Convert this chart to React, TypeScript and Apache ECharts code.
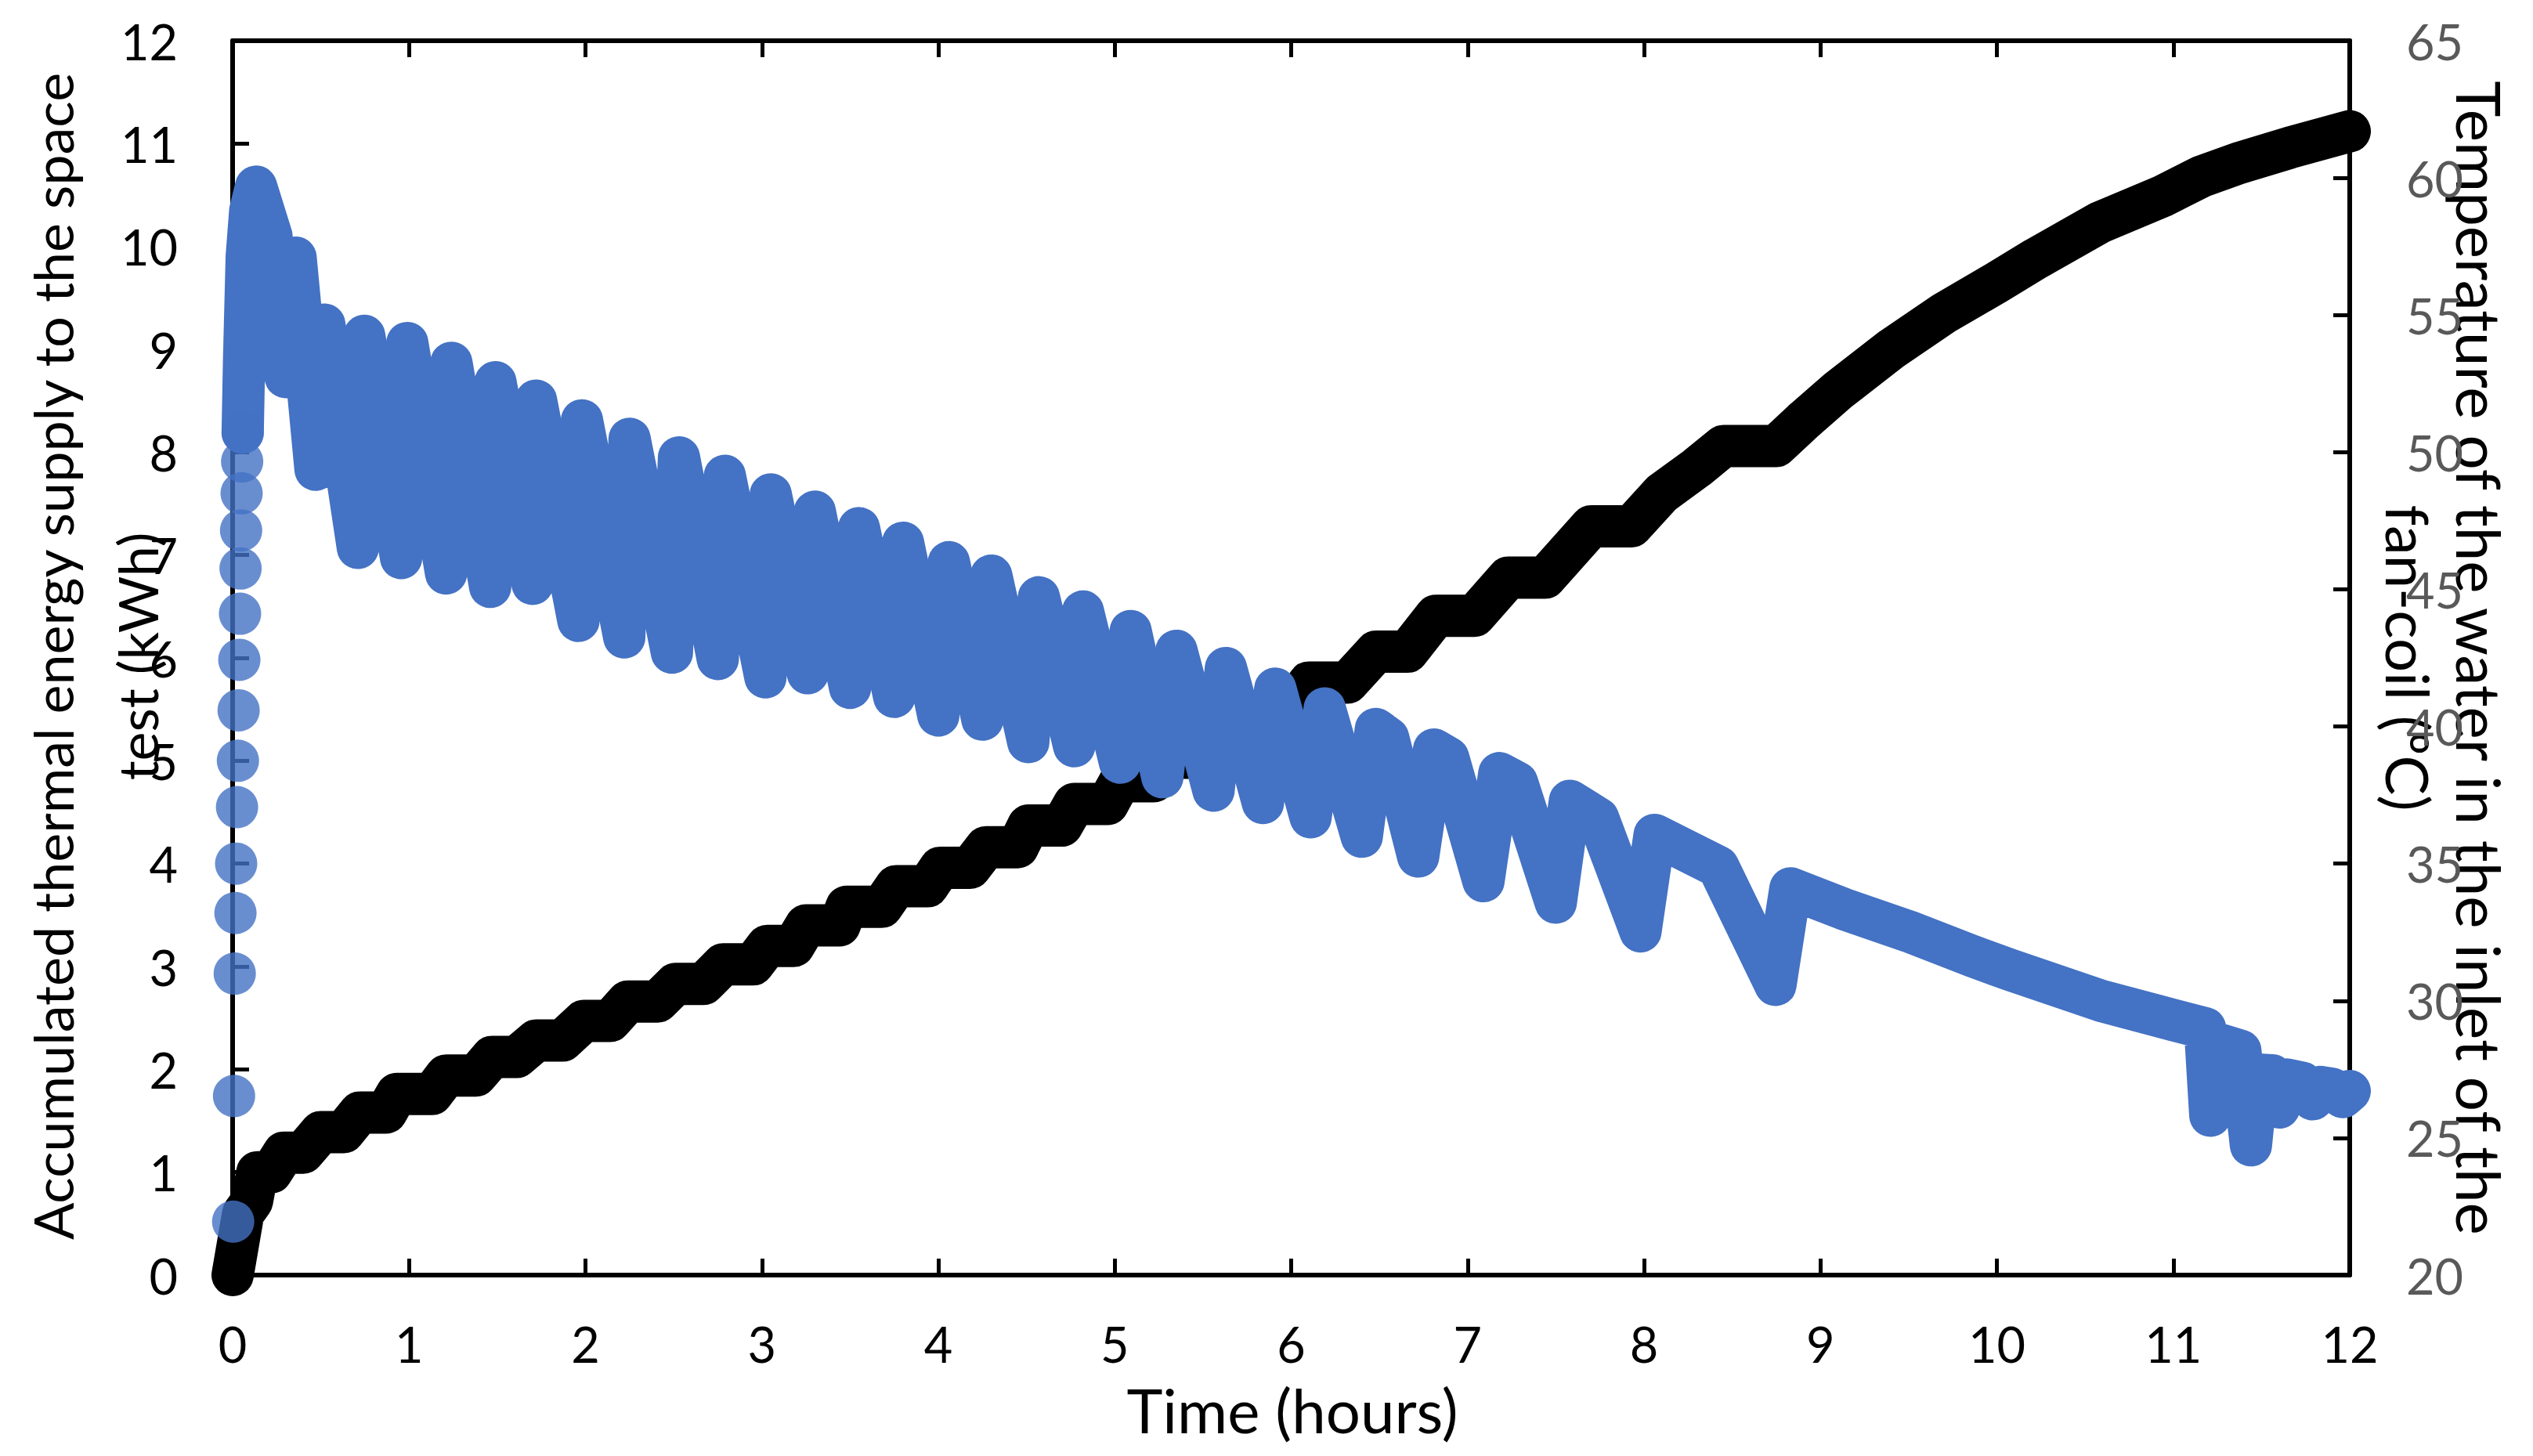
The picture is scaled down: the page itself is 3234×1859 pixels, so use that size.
import React, { useEffect, useRef } from "react";
import * as echarts from "echarts";

// Accumulated thermal energy (kWh) vs time (h) - black series, left axis
const energyTime = [
  0, 0.06, 0.11, 0.14, 0.22, 0.29, 0.4, 0.5, 0.63, 0.72, 0.87, 0.93, 1.13, 1.21, 1.38,
  1.47, 1.61, 1.72, 1.87, 1.99, 2.14, 2.24, 2.41, 2.51, 2.67, 2.78, 2.95, 3.03, 3.18,
  3.25, 3.44, 3.48, 3.68, 3.76, 3.94, 4.01, 4.18, 4.27, 4.45, 4.51, 4.7, 4.77, 4.96,
  5.03, 5.22, 5.32, 5.5, 5.58, 5.78, 5.86, 6.0, 6.1, 6.32, 6.48, 6.66, 6.82, 7.04,
  7.23, 7.44, 7.7, 7.93, 8.1, 8.3, 8.45, 8.75, 8.9, 9.1, 9.4, 9.7, 10.0, 10.22, 10.58,
  10.94, 11.16, 11.37, 11.66, 12.0,
];
const energyKWh = [
  0, 0.6, 0.72, 1.0, 1.0, 1.19, 1.19, 1.39, 1.39, 1.58, 1.58, 1.76, 1.76, 1.94, 1.94,
  2.12, 2.12, 2.28, 2.28, 2.47, 2.47, 2.66, 2.66, 2.83, 2.83, 3.02, 3.02, 3.2, 3.2,
  3.4, 3.4, 3.58, 3.58, 3.78, 3.78, 3.96, 3.96, 4.16, 4.16, 4.37, 4.37, 4.58, 4.58,
  4.8, 4.8, 5.03, 5.03, 5.28, 5.28, 5.5, 5.5, 5.76, 5.76, 6.06, 6.06, 6.41, 6.41,
  6.78, 6.78, 7.28, 7.28, 7.6, 7.85, 8.06, 8.06, 8.3, 8.6, 9.0, 9.35, 9.65, 9.88, 10.23,
  10.49, 10.68, 10.81, 10.96, 11.12,
];

// Inlet water temperature (°C) - initial heating (separate points)
const tempRiseTime = [
  0.003, 0.008, 0.012, 0.016, 0.02, 0.025, 0.03, 0.034, 0.038, 0.042, 0.045, 0.048,
  0.051, 0.054, 0.057,
];
const tempRiseC = [
  21.95, 26.53, 30.99, 33.2, 35.0, 37.06, 38.75, 40.59, 42.43, 44.11, 45.76, 47.15,
  48.5, 49.66, 50.71,
];

// Inlet water temperature (°C) - rest of the test
const tempTime = [
  0.057, 0.065, 0.08, 0.1, 0.133, 0.22, 0.3, 0.357, 0.47, 0.52, 0.71, 0.746, 0.955, 0.99,
  1.21, 1.24, 1.46, 1.49, 1.7, 1.72, 1.96, 1.98, 2.22, 2.25, 2.49, 2.53, 2.75, 2.79,
  3.02, 3.05, 3.26, 3.3, 3.5, 3.55, 3.75, 3.8, 4.0, 4.06, 4.25, 4.3, 4.51, 4.57, 4.77,
  4.82, 5.03, 5.09, 5.27, 5.35, 5.56, 5.63, 5.84, 5.91, 6.11, 6.19, 6.4, 6.48, 6.55,
  6.72, 6.81, 6.89, 7.09, 7.18, 7.28, 7.5, 7.58, 7.74, 7.98, 8.06, 8.42, 8.745, 8.83,
  9.13, 9.5, 9.86, 10.07, 10.6, 11.0, 11.18, 11.21, 11.25, 11.38, 11.44, 11.48, 11.56,
  11.6, 11.64, 11.73, 11.79, 11.83, 11.9, 11.96, 12.0,
];
const tempC = [
  50.71, 53.38, 57.13, 58.81, 59.68, 57.88, 52.74, 57.09, 49.36, 54.65, 46.51, 54.24,
  46.14, 53.98, 45.58, 53.26, 45.09, 52.55, 45.2, 51.88, 43.85, 51.16, 43.25, 50.49,
  42.69, 49.81, 42.46, 49.14, 41.79, 48.46, 41.94, 47.83, 41.41, 47.23, 41.08, 46.7,
  40.4, 45.99, 40.25, 45.5, 39.43, 44.71, 39.28, 44.19, 38.68, 43.48, 38.15, 42.76,
  37.66, 42.13, 37.21, 41.38, 36.69, 40.66, 35.98, 39.91, 39.58, 35.26, 39.16, 38.86,
  34.36, 38.3, 37.96, 33.58, 37.29, 36.65, 32.53, 36.05, 34.89, 30.58, 34.1, 33.35,
  32.53, 31.63, 31.14, 29.98, 29.3, 29.0, 25.81, 28.44, 28.18, 24.73, 27.31, 27.28,
  26.11, 27.13, 27.01, 26.41, 26.86, 26.79, 26.49, 26.71,
];

const xTitle = "Time (hours)";
const leftTitle = ["Accumulated thermal energy supply to the space", "test (kWh)"];
const rightTitle = ["Temperature of the water in the inlet of the", "fan-coil (ºC)"];

const FONT = "Lato";
const BLUE = "#4472C4";
const MARK = 54;

export default function App() {
  const ref = useRef<HTMLDivElement>(null);
  useEffect(() => {
    if (!ref.current) return;
    const chart = echarts.init(ref.current, undefined, { renderer: "svg" });
    const axisLine = { show: true, onZero: false, lineStyle: { color: "#000", width: 6 } };
    const axisTick = { show: true, inside: true, length: 21, lineStyle: { color: "#000", width: 5 } };
    const titleText = (text: string, x: number, y: number, rot: number, size: number) => ({
      type: "text",
      x,
      y,
      rotation: rot,
      silent: true,
      style: {
        text,
        fill: "#000",
        fontSize: size,
        fontFamily: FONT,
        align: "center",
        verticalAlign: "middle",
        textAlign: "center",
        textVerticalAlign: "middle",
      },
    });
    chart.setOption({
      animation: false,
      backgroundColor: "#fff",
      grid: { left: 297, right: 234, top: 52, bottom: 231, containLabel: false },
      xAxis: [
        {
          type: "value",
          position: "bottom",
          min: 0,
          max: 12,
          interval: 1,
          axisLine,
          axisTick,
          splitLine: { show: false },
          axisLabel: { color: "#000", fontSize: 63, fontFamily: FONT, margin: 56 },
        },
        {
          type: "value",
          position: "top",
          min: 0,
          max: 12,
          interval: 1,
          axisLine,
          axisTick,
          splitLine: { show: false },
          axisLabel: { show: false },
        },
      ],
      yAxis: [
        {
          type: "value",
          position: "left",
          min: 0,
          max: 12,
          interval: 1,
          axisLine,
          axisTick,
          splitLine: { show: false },
          axisLabel: { color: "#000", fontSize: 63, fontFamily: FONT, margin: 70 },
        },
        {
          type: "value",
          position: "right",
          min: 20,
          max: 65,
          interval: 5,
          axisLine,
          axisTick,
          splitLine: { show: false },
          axisLabel: { color: "#595959", fontSize: 63, fontFamily: FONT, margin: 72 },
        },
      ],
      graphic: [
        titleText(xTitle, 1650, 1800, 0, 78),
        titleText(leftTitle[0], 67, 838, Math.PI / 2, 70),
        titleText(leftTitle[1], 175, 838, Math.PI / 2, 70),
        titleText(rightTitle[0], 3166, 840, -Math.PI / 2, 78),
        titleText(rightTitle[1], 3075, 840, -Math.PI / 2, 76),
      ],
      series: [
        {
          name: "energy",
          type: "line",
          xAxisIndex: 0,
          yAxisIndex: 0,
          data: energyTime.map((t, i) => [t, energyKWh[i]]),
          showSymbol: false,
          clip: false,
          color: "#000",
          lineStyle: { color: "#000", width: MARK, cap: "round", join: "round" },
          z: 3,
        },
        {
          name: "tempRise",
          type: "scatter",
          xAxisIndex: 0,
          yAxisIndex: 1,
          data: tempRiseTime.map((t, i) => [t, tempRiseC[i]]),
          symbol: "circle",
          symbolSize: MARK,
          clip: false,
          itemStyle: { color: BLUE },
          z: 4,
        },
        {
          name: "temp",
          type: "line",
          xAxisIndex: 0,
          yAxisIndex: 1,
          data: tempTime.map((t, i) => [t, tempC[i]]),
          showSymbol: false,
          clip: false,
          color: BLUE,
          lineStyle: { color: BLUE, width: MARK, cap: "round", join: "round" },
          z: 4,
        },
      ],
    });
    return () => chart.dispose();
  }, []);
  return (
    <div
      ref={ref}
      style={{ position: "fixed", left: 0, top: 0, width: 3234, height: 1859, background: "#fff" }}
    />
  );
}
